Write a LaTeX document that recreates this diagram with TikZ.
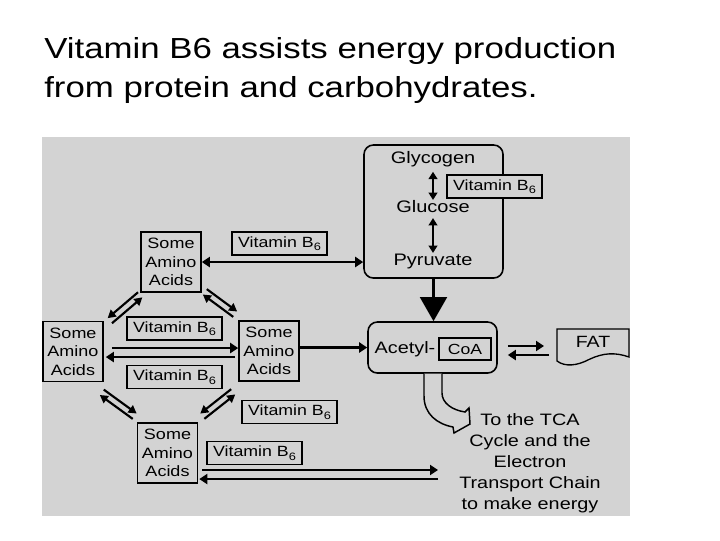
\documentclass[tikz,border=0pt]{standalone}
\usepackage{fontspec}
\setmainfont{Liberation Sans}[FakeStretch=1.2]
\usetikzlibrary{arrows.meta,calc,fit}
\definecolor{panel}{RGB}{211,211,211}
\newcommand\dpair[3]{%
  \draw[darr] ($(#1)!2.5pt!#3:(#2)$) -- ($(#2)!2.5pt!-#3:(#1)$);
  \draw[darr] ($(#2)!2.5pt!#3:(#1)$) -- ($(#1)!2.5pt!-#3:(#2)$);
}
\newcommand\vitB{Vitamin B\raisebox{-0.45ex}{\fontsize{8pt}{8pt}\selectfont 6}}
\begin{document}
\begin{tikzpicture}[x=0.75pt,y=-0.75pt,
  amino/.style={draw, line width=1.2pt, minimum width=45pt, minimum height=45pt, inner sep=0pt, align=center, font=\fontsize{11.25pt}{13.9pt}\selectfont},
  vit/.style={draw, fill=panel, line width=1.2pt, minimum width=71.25pt, minimum height=17.25pt, inner sep=0pt, font=\fontsize{11.1pt}{13pt}\selectfont},
  txt/.style={inner sep=2pt, text height=0.72em, text depth=0.2em, font=\fontsize{12.5pt}{15pt}\selectfont},
  bigbox/.style={draw, line width=1.2pt, rounded corners=7pt, inner sep=0pt},
  harr/.style={line width=1.8pt, -{Triangle[length=6pt,width=7.5pt]}},
  darr/.style={line width=1.6pt, -{Triangle[length=6pt,width=6.5pt]}},
  varr/.style={line width=1.8pt, {Triangle[length=5.5pt,width=6.5pt]}-{Triangle[length=5.5pt,width=6.5pt]}}
]
\useasboundingbox (0,0) rectangle (720,540);
\fill[white] (0,0) rectangle (720,540);
\fill[panel] (42,137) rectangle (630,516);

% title
\node[anchor=base west, inner sep=0pt, font=\fontsize{21.75pt}{29.25pt}\selectfont] (t1) at (44,58) {Vitamin B6 assists energy production};
\node[anchor=base west, inner sep=0pt, font=\fontsize{21.75pt}{29.25pt}\selectfont] (t2) at (44,97) {from protein and carbohydrates.};

% main carbohydrate box
\node[bigbox, fit={(364,145) (503,278)}] (main) {};
\node[txt] (gly) at (433,160) {Glycogen};
\node[txt] (glu) at (433,209) {Glucose};
\node[txt] (pyr) at (433,262) {Pyruvate};
\draw[varr, shorten <=2pt] (gly.south) -- (glu.north);
\draw[varr] (glu.south) -- (pyr.north);
\node[vit] (v0) at (494.5,186.5) {\vitB};

% amino acid boxes
\node[amino] (A1) at (171,262) {Some\\Amino\\Acids};
\node[amino] (A2) at (73,351.5) {Some\\Amino\\Acids};
\node[amino] (A3) at (269,351) {Some\\Amino\\Acids};
\node[amino] (A4) at (167.5,453) {Some\\Amino\\Acids};

% vitamin labels
\node[vit] (L1) at (279.5,243.5) {\vitB};
\node[vit] (L2) at (174.5,328.5) {\vitB};
\node[vit] (L3) at (174.5,377) {\vitB};
\node[vit] (L4) at (289.5,412) {\vitB};
\node[vit] (L5) at (254.5,453) {\vitB};

% acetyl-CoA
\node[bigbox, fit={(368,322) (497,373)}] (acetyl) {};
\node[inner sep=0pt, font=\fontsize{12.4pt}{15pt}\selectfont] (acet) at (405,349) {Acetyl-};
\node[draw, line width=1pt, minimum width=39pt, minimum height=16.5pt, inner sep=0pt, font=\fontsize{11pt}{13pt}\selectfont] (coa) at (465,349) {CoA};

% FAT
\draw[line width=1pt] (557,329) -- (629,329) -- (629,357)
  .. controls (615,352) and (603,353) .. (590,359)
  .. controls (577,366) and (565,367) .. (557,361) -- cycle;
\node[font=\fontsize{12.2pt}{15pt}\selectfont] (fat) at (593,342) {FAT};
\coordinate (fatw) at (557,346);

% TCA text
\node[align=center, font=\fontsize{12.4pt}{15.75pt}\selectfont] (tca) at (530,463.5) {To the TCA\\Cycle and the\\Electron\\Transport Chain\\to make energy};
\coordinate (tcaA) at (438,470);
\coordinate (tcaB) at (438,479);

% connectors
\draw[line width=1.8pt, {Triangle[length=6pt,width=7.5pt]}-{Triangle[length=6pt,width=7.5pt]}] (A1.east) -- (A1.east -| main.west);
\draw[line width=2pt, -{Triangle[length=18pt,width=20pt]}] (main.south) -- (main.south |- acetyl.north);
\draw[harr] (A3.east |- acetyl.west) -- (acetyl.west);
\draw[harr] ([shift={(8,-3.5)}]A2.east) -- ([shift={(0,-3)}]A3.west);
\draw[harr] ([shift={(-3,6)}]A3.west) -- ([shift={(2,5.5)}]A2.east);
\draw[harr] ([shift={(4,17)}]A4.east) -- (tcaA);
\draw[harr] (tcaB) -- ([shift={(1,26)}]A4.east);
\draw[harr] ([shift={(10,-1.5)}]acetyl.east) -- ([shift={(-13,0)}]fatw);
\draw[harr] ([shift={(-8,9)}]fatw) -- ([shift={(10,7.5)}]acetyl.east);

% diagonal pairs
\coordinate (p12a) at ([shift={(0,2)}]A1.south west);
\coordinate (p12b) at ([shift={(6,0)}]A2.north east);
\coordinate (p13a) at ([shift={(3,-1)}]A1.south east);
\coordinate (p13b) at ([shift={(-3,-6)}]A3.north west);
\coordinate (p24a) at ([shift={(-2,10)}]A2.south east);
\coordinate (p24b) at ([shift={(-2,-6)}]A4.north west);
\coordinate (p34a) at ([shift={(-5,10)}]A3.south west);
\coordinate (p34b) at ([shift={(4,-6)}]A4.north east);
\dpair{p12a}{p12b}{-90}
\dpair{p13a}{p13b}{90}
\dpair{p24a}{p24b}{90}
\dpair{p34a}{p34b}{-90}

% hollow bent arrow to TCA
\draw[line width=1.1pt, fill=panel, line join=miter]
  (424,373.6) -- (424,396) .. controls (424,414) and (437,424) .. (453,427)
  -- (454,433) -- (470,424) -- (469,408) -- (465,412)
  .. controls (452,410) and (442,403) .. (442,393) -- (442,373.6);
\end{tikzpicture}
\end{document}
